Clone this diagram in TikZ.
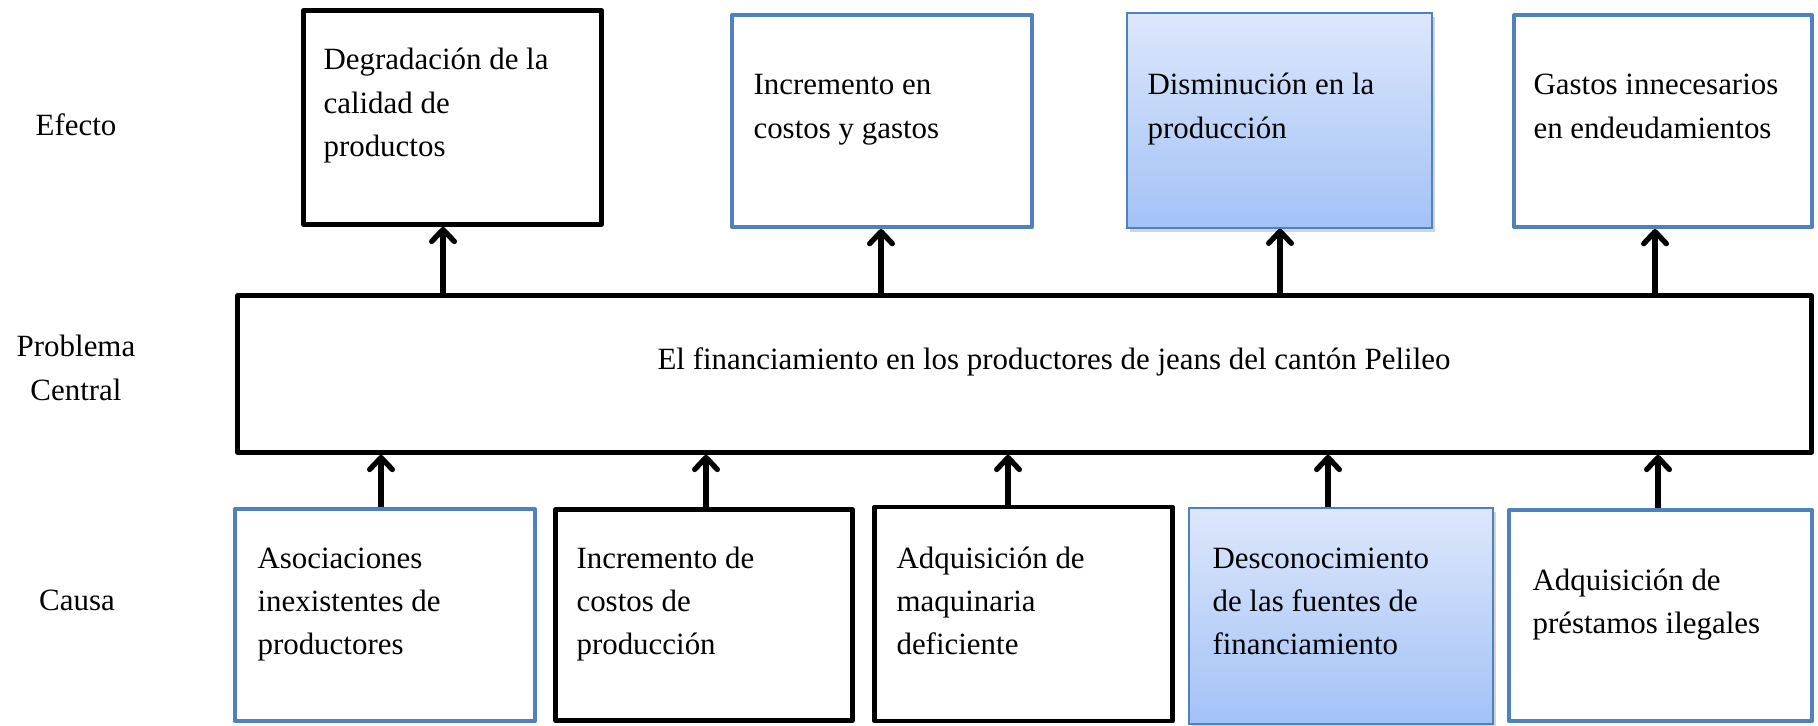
\documentclass[tikz,border=0pt]{standalone}
\usepackage{fontspec}
\setmainfont{Liberation Serif}
\usetikzlibrary{arrows.meta}
\usetikzlibrary{shadows}

\definecolor{boxblue}{RGB}{79,129,189}
\definecolor{gradtop}{RGB}{221,231,251}
\definecolor{gradbot}{RGB}{162,194,246}

\newcommand{\lines}[1]{\begin{tabular}[t]{@{}l@{}}#1\end{tabular}}
\newcommand{\clines}[1]{\begin{tabular}[t]{@{}c@{}}#1\end{tabular}}

\begin{document}
\begin{tikzpicture}[x=0.375pt,y=0.375pt,
  boxsize/.style 2 args={minimum width=#1*0.375pt,minimum height=#2*0.375pt},
  blk/.style={draw=black,line width=1.75pt,fill=white,line join=round,inner sep=0pt},
  blu/.style={draw=boxblue,line width=1.5pt,fill=white,line join=round,inner sep=0pt},
  grad/.style={draw=boxblue,line width=0.5pt,top color=gradtop,bottom color=gradbot,inner sep=0pt,
    drop shadow={opacity=0.35,shadow xshift=1pt,shadow yshift=-1.5pt}},
  txt/.style={inner sep=0pt,font=\fontsize{11.6}{16.2}\selectfont},
  arr/.style={line width=2pt,-{Straight Barb[length=4.5pt,width=8.5pt,round]}}]
\useasboundingbox (0,0) rectangle (1818,725);
\node (e1) [blk,boxsize={298}{214}] at (452.5,607.5) {};
\node (e2) [blu,boxsize={300}{212}] at (882,604) {};
\node (e3) [grad,boxsize={305}{215}] at (1279.5,604.5) {};
\node (e4) [blu,boxsize={298}{212}] at (1663,604) {};
\node (core) [blk,boxsize={1574}{157}] at (1024.5,351) {};
\node (b1) [blu,boxsize={300}{212}] at (385,110) {};
\node (b2) [blk,boxsize={297}{211}] at (704,110) {};
\node (b3) [blk,boxsize={298}{214}] at (1023.5,111) {};
\node (b4) [grad,boxsize={304}{216}] at (1341,109) {};
\node (b5) [blu,boxsize={303}{211}] at (1660.5,109.5) {};
\node (efecto) [txt,anchor=base] at (76,589) {Efecto};
\node (problema) [txt,anchor=base] at (76,368) {\clines{Problema\\Central}};
\node (causa) [txt,anchor=base] at (77,115) {Causa};
\node (e1t) [txt,anchor=base west] at (323,655) {\lines{Degradación de la\\calidad de\\productos}};
\node (e2t) [txt,anchor=base west] at (753,630) {\lines{Incremento en\\costos y gastos}};
\node (e3t) [txt,anchor=base west] at (1147,630) {\lines{Disminución en la\\producción}};
\node (e4t) [txt,anchor=base west] at (1533,630) {\lines{Gastos innecesarios\\en endeudamientos}};
\node (coret) [txt,anchor=base] at (1054,355) {El financiamiento en los productores de jeans del cantón Pelileo};
\node (b1t) [txt,anchor=base west] at (257,157) {\lines{Asociaciones\\inexistentes de\\productores}};
\node (b2t) [txt,anchor=base west] at (576,157) {\lines{Incremento de\\costos de\\producción}};
\node (b3t) [txt,anchor=base west] at (896,157) {\lines{Adquisición de\\maquinaria\\deficiente}};
\node (b4t) [txt,anchor=base west] at (1212,157) {\lines{Desconocimiento\\de las fuentes de\\financiamiento}};
\node (b5t) [txt,anchor=base west] at (1532,135) {\lines{Adquisición de\\préstamos ilegales}};
\foreach \b/\x in {b1/381,b2/706,b3/1008,b4/1328,b5/1658}
  \draw[arr] (\x,0 |- \b.north) -- (\x,0 |- core.south);
\foreach \e/\x in {e1/443,e2/881,e3/1280,e4/1655}
  \draw[arr] (\x,0 |- core.north) -- (\x,0 |- \e.south);
\end{tikzpicture}
\end{document}
